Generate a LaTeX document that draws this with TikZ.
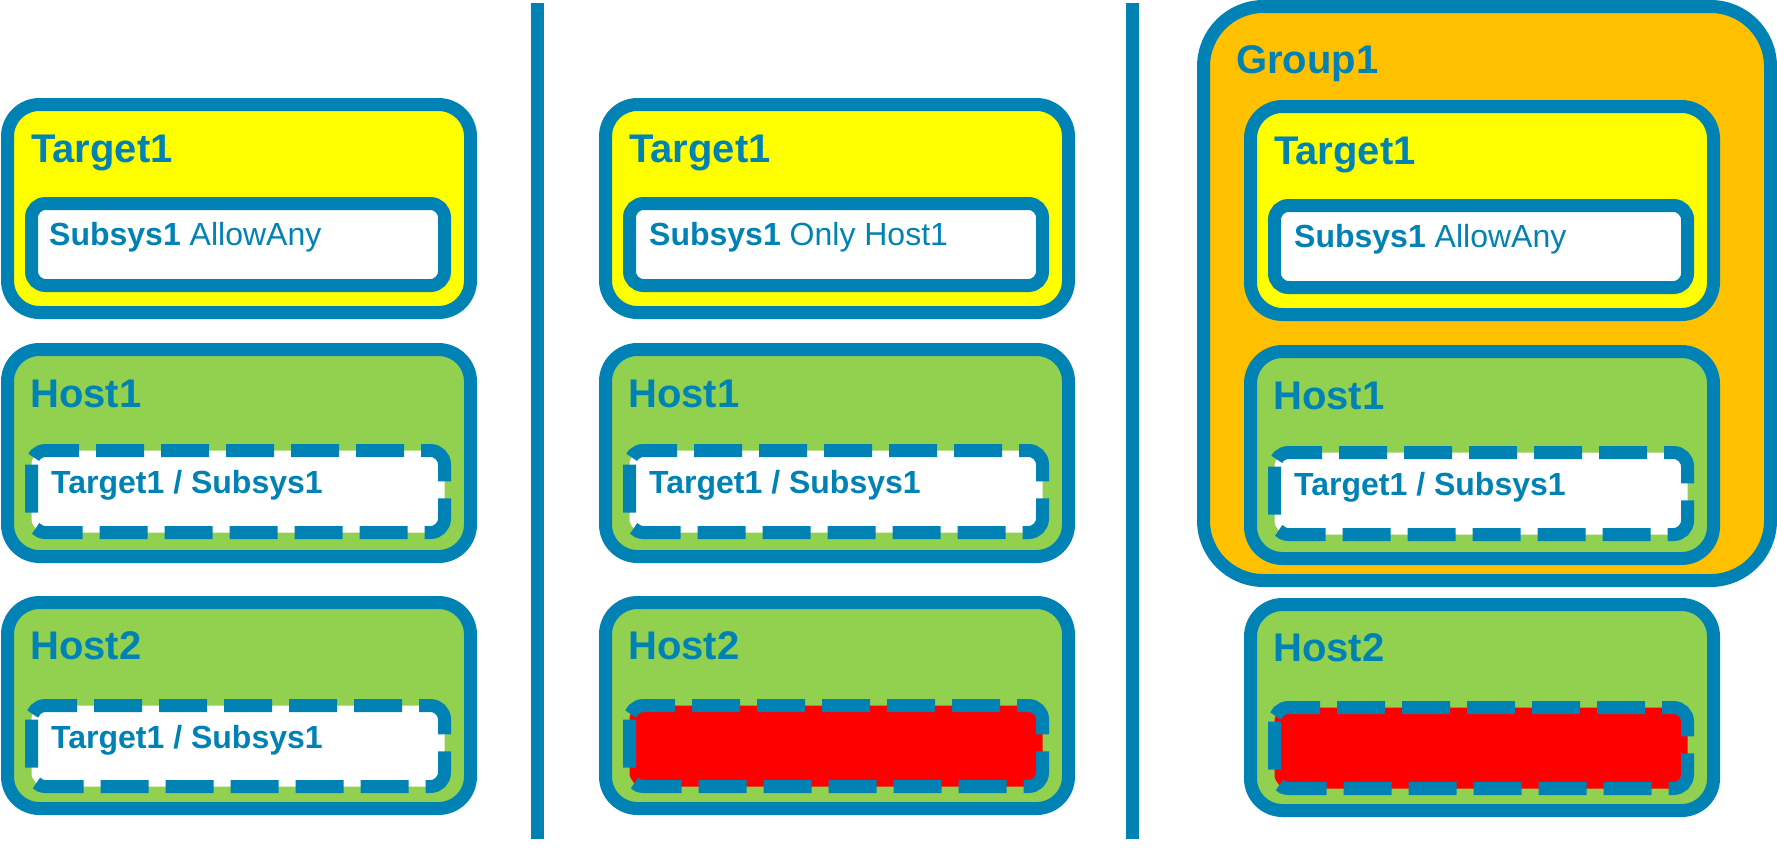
\documentclass[tikz,border=0pt]{standalone}
\usepackage{fontspec}
\setmainfont{Liberation Sans}
\definecolor{cblue}{RGB}{0,131,180}
\definecolor{cyellow}{RGB}{255,255,0}
\definecolor{cgreen}{RGB}{146,208,80}
\definecolor{corange}{RGB}{255,192,0}
\definecolor{cred}{RGB}{255,0,0}
\tikzset{
  box/.style={draw=cblue, line width=13pt, rounded corners=32pt},
  inbox/.style={draw=cblue, line width=13pt, rounded corners=14pt, fill=white},
  dbox/.style={draw=cblue, line width=13pt, rounded corners=14pt, dash pattern=on 48pt off 17pt},
  grpbox/.style={draw=cblue, line width=13pt, rounded corners=60pt, fill=corange},
  ttl/.style={anchor=base west, inner sep=0pt, text=cblue, font=\fontsize{40}{48}\selectfont\bfseries},
  lbl/.style={anchor=base west, inner sep=0pt, text=cblue, font=\fontsize{32}{38}\selectfont},
  divider/.style={draw=cblue, line width=13pt}
}
\begin{document}
\begin{tikzpicture}[x=1pt,y=-1pt]
\useasboundingbox (0,0) rectangle (1777,847);
% ---------- left column ----------
\draw[box, fill=cyellow] (7.5,104.5) rectangle (470.5,312.5);
\draw[inbox] (31.5,203.5) rectangle (444.5,285.5);
\node[ttl] (lt) at (31,162) {Target1};
\node[lbl] (ls) at (49,245) {\bfseries Subsys1\mdseries{} AllowAny};
\draw[box, fill=cgreen] (7.5,349.5) rectangle (470.5,556.5);
\draw[dbox, fill=white] (31.5,450.5) rectangle (444.5,532.5);
\node[ttl] (lh1) at (30,407) {Host1};
\node[lbl] (lh1s) at (51,493) {\bfseries Target1 / Subsys1};
\draw[box, fill=cgreen] (7.5,602.5) rectangle (470.5,808.5);
\draw[dbox, fill=white] (31.5,705.5) rectangle (444.5,786.5);
\node[ttl] (lh2) at (30,659) {Host2};
\node[lbl] (lh2s) at (51,748) {\bfseries Target1 / Subsys1};
% ---------- dividers ----------
\coordinate (d1a) at (537.5,3);
\coordinate (d1b) at (537.5,839);
\coordinate (d2a) at (1132.5,3);
\coordinate (d2b) at (1132.5,839);
\draw[divider] (d1a) -- (d1b);
\draw[divider] (d2a) -- (d2b);
% ---------- middle column ----------
\begin{scope}[shift={(598,0)}]
\draw[box, fill=cyellow] (7.5,104.5) rectangle (470.5,312.5);
\draw[inbox] (31.5,203.5) rectangle (444.5,285.5);
\node[ttl] (mt) at (31,162) {Target1};
\node[lbl] (ms) at (51,245) {\bfseries Subsys1\mdseries{} Only Host1};
\draw[box, fill=cgreen] (7.5,349.5) rectangle (470.5,556.5);
\draw[dbox, fill=white] (31.5,450.5) rectangle (444.5,532.5);
\node[ttl] (mh1) at (30,407) {Host1};
\node[lbl] (mh1s) at (51,493) {\bfseries Target1 / Subsys1};
\draw[box, fill=cgreen] (7.5,602.5) rectangle (470.5,808.5);
\draw[dbox, fill=cred] (31.5,705.5) rectangle (444.5,786.5);
\node[ttl] (mh2) at (30,659) {Host2};
\end{scope}
% ---------- right column ----------
\draw[grpbox] (1203.5,6.5) rectangle (1770.5,580.5);
\node[ttl] (rg) at (1236,73) {Group1};
\begin{scope}[shift={(1243,2)}]
\draw[box, fill=cyellow] (7.5,104.5) rectangle (470.5,312.5);
\draw[inbox] (31.5,203.5) rectangle (444.5,285.5);
\node[ttl] (rt) at (31,162) {Target1};
\node[lbl] (rs) at (51,245) {\bfseries Subsys1\mdseries{} AllowAny};
\draw[box, fill=cgreen] (7.5,349.5) rectangle (470.5,556.5);
\draw[dbox, fill=white] (31.5,450.5) rectangle (444.5,532.5);
\node[ttl] (rh1) at (30,407) {Host1};
\node[lbl] (rh1s) at (51,493) {\bfseries Target1 / Subsys1};
\draw[box, fill=cgreen] (7.5,602.5) rectangle (470.5,808.5);
\draw[dbox, fill=cred] (31.5,705.5) rectangle (444.5,786.5);
\node[ttl] (rh2) at (30,659) {Host2};
\end{scope}
\end{tikzpicture}
\end{document}
